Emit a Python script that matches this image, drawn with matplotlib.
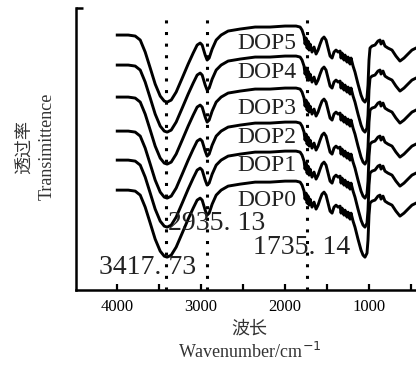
import numpy as np
import matplotlib
matplotlib.use("Agg")
import matplotlib.pyplot as plt

# wavenumber grid (cm-1) and transmittance profile of the top curve (DOP5)
wavenumber = [4000, 3869, 3786, 3726, 3667, 3607, 3548, 3488, 3440, 3405,
              3357, 3298, 3226, 3155, 3095, 3048, 3012, 2988, 2952, 2929,
              2905, 2869, 2821, 2762, 2679, 2536, 2357, 2179, 2000, 1869,
              1821, 1798, 1774, 1762, 1750, 1738, 1726, 1714, 1702, 1679,
              1655, 1631, 1607, 1583, 1560, 1536, 1512, 1488, 1464, 1440,
              1417, 1393, 1369, 1345, 1333, 1321, 1298, 1286, 1262, 1250,
              1226, 1214, 1190, 1167, 1131, 1095, 1071, 1048, 1024, 1012,
              1000, 988, 964, 929, 893, 869, 857, 833, 810, 774,
              726, 679, 631, 583, 536, 488, 440]
dop5 = [255, 255, 254, 250, 238, 222, 206, 194, 189, 188,
        190, 198, 212, 226, 237, 245, 247, 245, 235, 230,
        232, 241, 250, 255, 259, 261, 263, 263, 264, 264,
        263, 260, 254, 246, 252, 242, 249, 240, 246, 238,
        243, 236, 240, 246, 251, 253, 250, 242, 234, 232,
        238, 240, 238, 239, 232, 237, 230, 235, 228, 233,
        226, 232, 224, 218, 206, 195, 190, 188, 192, 205,
        230, 242, 244, 245, 249, 250, 246, 249, 244, 242,
        240, 234, 229, 232, 236, 240, 242]

names = ["DOP5", "DOP4", "DOP3", "DOP2", "DOP1", "DOP0"]
offsets = [0, 30, 62, 96, 125, 155]
name_y = [247, 218, 182, 153, 125, 90]
name_x = 2214

peaks = [3417.73, 2935.13, 1735.14]
peak_text = ["3417. 73", "2935. 13", "1735. 14"]
peak_text_x = [4214, 3393, 2381]
peak_text_y = [23, 67, 43]

serif = "Liberation Serif"
cjk = ["Noto Sans CJK SC", "DejaVu Sans"]

fig = plt.figure(figsize=(4.16, 3.65), dpi=100)
ax = fig.add_axes([0.183, 0.205, 0.817, 0.773])

wn = np.asarray(wavenumber)
base = np.asarray(dop5)
for name, off in zip(names, offsets):
    ax.plot(wn, base - off, color="black", lw=2.1, solid_joinstyle="round")

for p in peaks:
    ax.axvline(p, ymin=0, ymax=0.975, color="black", lw=2.2,
               linestyle=(0, (1, 2.8)))

for name, y in zip(names, name_y):
    ax.text(name_x, y, name, ha="center", va="center", fontsize=17,
            family=serif, color="#222222")

for t, x, y in zip(peak_text, peak_text_x, peak_text_y):
    ax.text(x, y, t, ha="left", va="center", fontsize=20, family=serif,
            color="#222222")

ax.set_xlim(4490, 440)
ax.set_ylim(0, 282)

ax.spines["top"].set_visible(False)
ax.spines["right"].set_visible(False)
ax.spines["left"].set_linewidth(1.8)
ax.spines["bottom"].set_linewidth(1.8)

ax.set_xticks([4000, 3000, 2000, 1000])
ax.set_xticks([3500, 2500, 1500, 500], minor=True)
ax.tick_params(axis="x", which="both", direction="in", length=4, width=1.6)
ax.tick_params(axis="x", which="major", labelsize=12, pad=6)
for lab in ax.get_xticklabels():
    lab.set_family(serif)

# small bracket at the top of the left spine
ax.set_yticks([282])
ax.tick_params(axis="y", direction="in", length=5, width=1.8, labelleft=False)

fig.text(0.06, 0.597, "透过率", rotation=90, ha="center", va="center",
         fontsize=13, family=cjk, color="#333333")
fig.text(0.113, 0.6, "Transimittence", rotation=90, ha="center", va="center",
         fontsize=13, family=serif, color="#333333")
fig.text(0.6, 0.101, "波长", ha="center", va="center", fontsize=13,
         family=cjk, color="#333333")
fig.text(0.6, 0.036, "Wavenumber/cm$^{-1}$", ha="center", va="center",
         fontsize=13, family=serif, color="#333333")

fig.savefig("out.png", dpi=100)
